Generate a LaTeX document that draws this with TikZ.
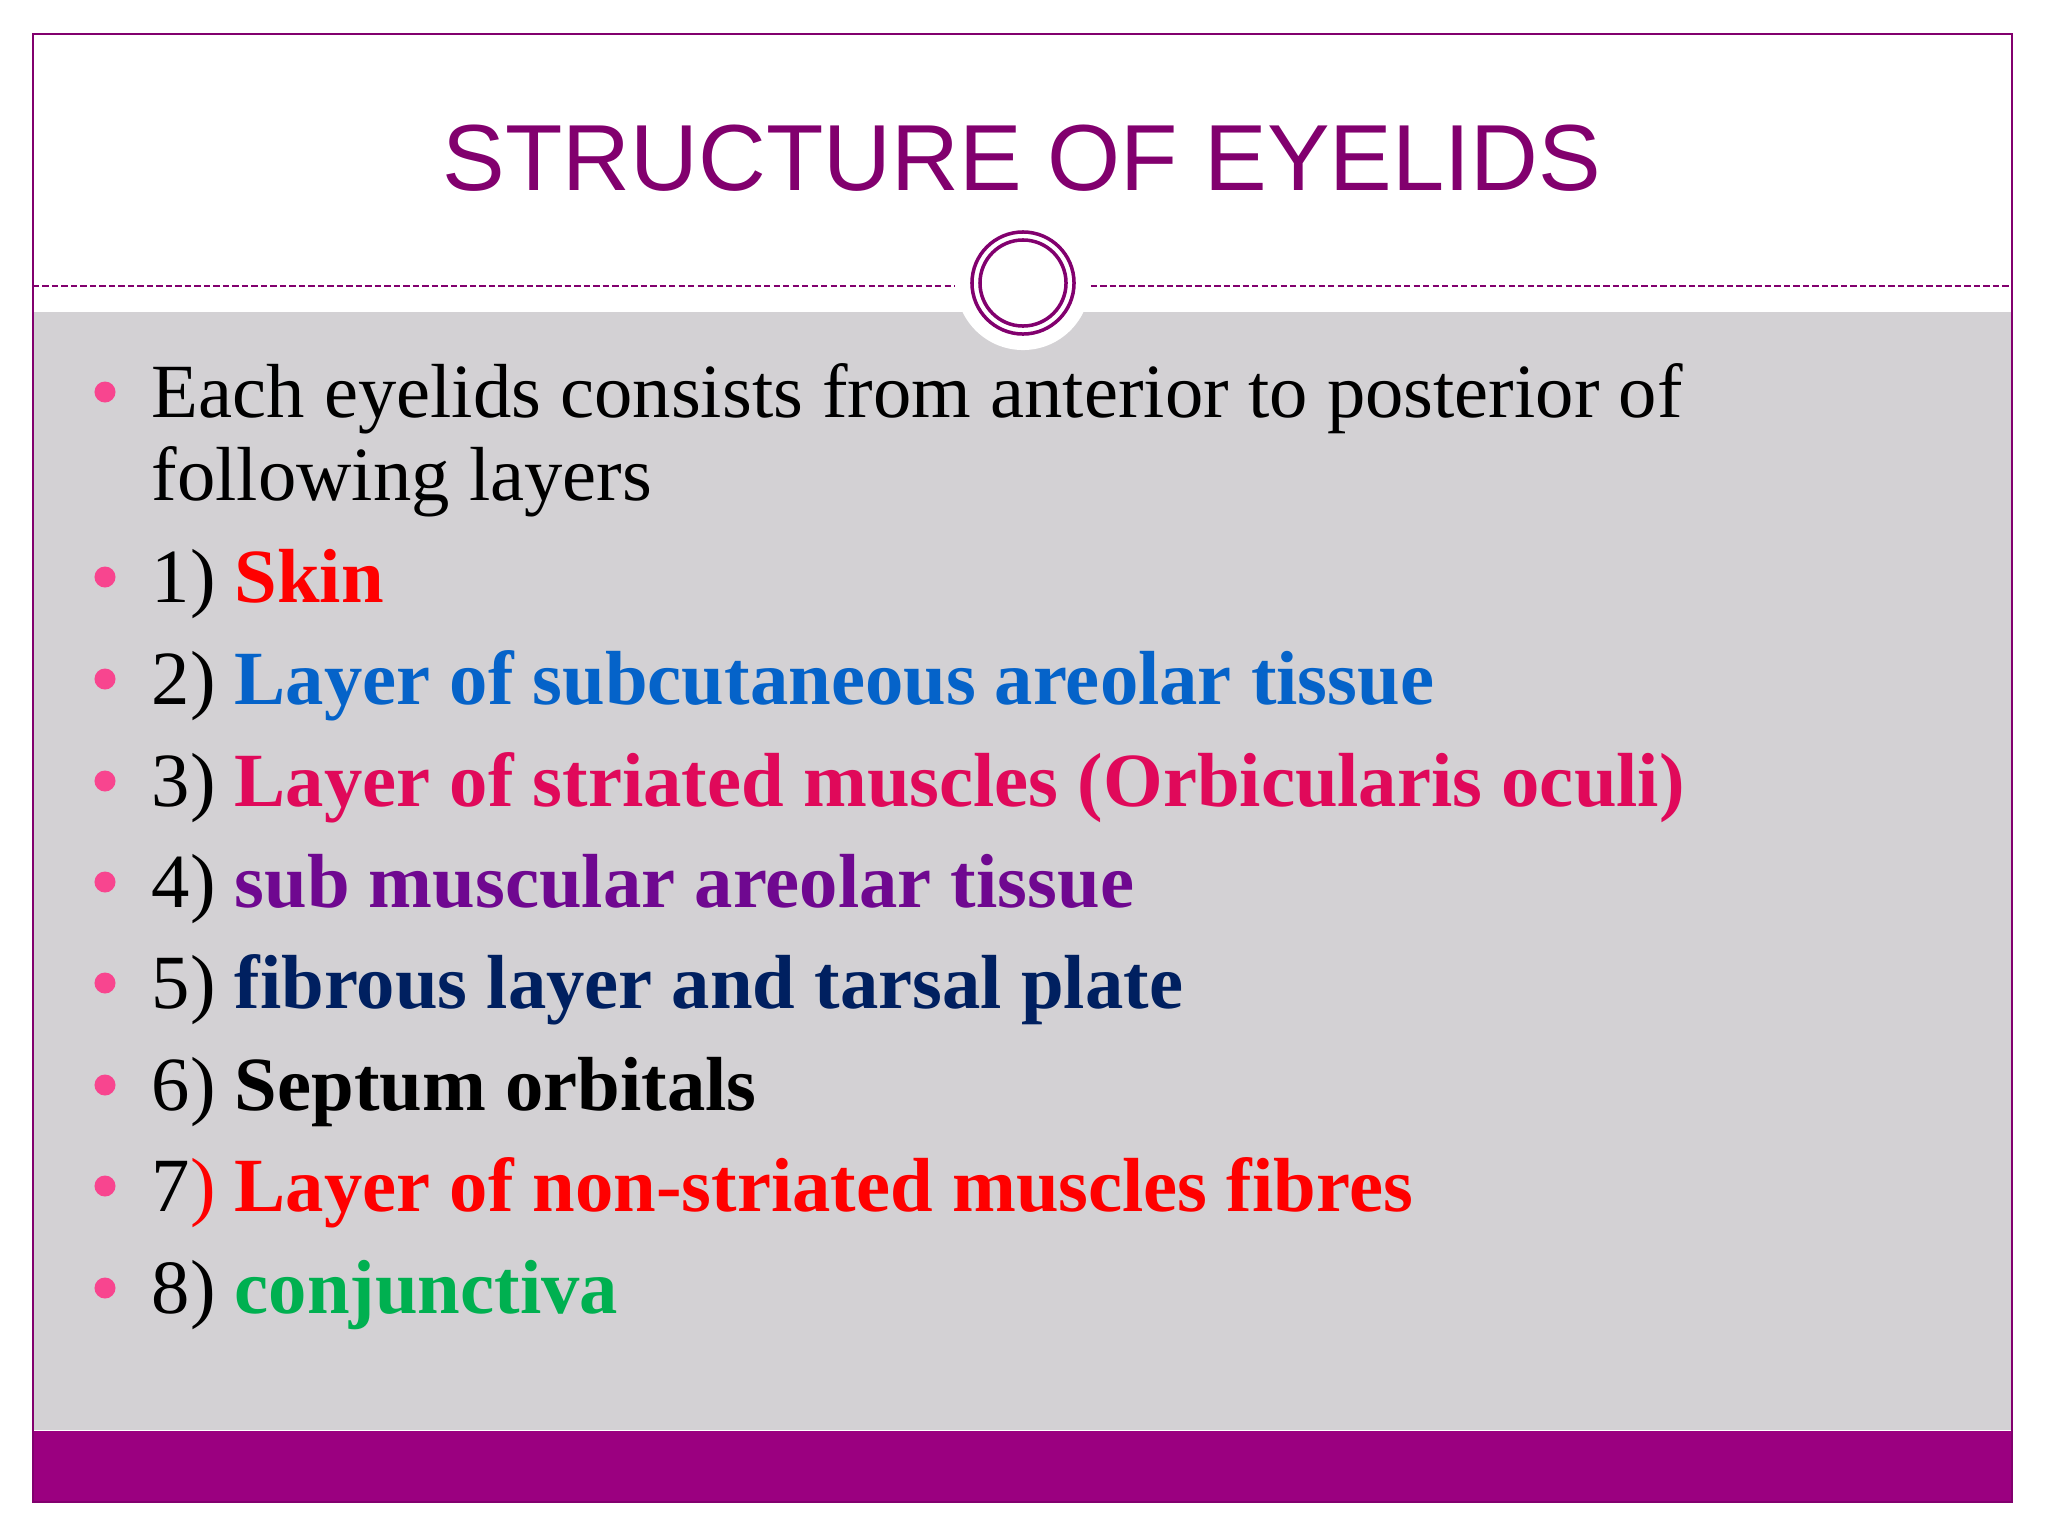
\documentclass[tikz,border=0pt]{standalone}
\usepackage{fontspec}
\setmainfont{Liberation Serif}
\newfontfamily\titlefont{Liberation Sans}
\definecolor{slideplum}{HTML}{9B0080}
\definecolor{titleplum}{HTML}{82006E}
\definecolor{panelgray}{HTML}{D3D1D4}
\definecolor{dotpink}{HTML}{F8458F}
\definecolor{skinred}{HTML}{FF0000}
\definecolor{areolarblue}{HTML}{0563C9}
\definecolor{muscrose}{HTML}{E0095A}
\definecolor{submauve}{HTML}{6F0890}
\definecolor{fibnavy}{HTML}{002060}
\definecolor{conjgreen}{HTML}{00B050}
\tikzset{
  txt/.style={anchor=base west, inner sep=0pt, font=\fontsize{21.8}{26}\selectfont},
  dot/.style={circle, fill=dotpink, inner sep=0pt, minimum size=0.21cm},
  ring/.style={circle, draw=titleplum, line width=1pt, inner sep=0pt}
}
\begin{document}
\begin{tikzpicture}[x=0.01cm, y=-0.01cm]
				  \useasboundingbox (0,0) rectangle (2048,1536);
				  \fill[white] (0,0) rectangle (2048,1536);
				  \fill[panelgray] (33,312) rectangle (2012,1430);
				  \fill[slideplum] (33,1431) rectangle (2012,1502);
				  \draw[titleplum, line width=0.6pt] (33,34) rectangle (2012,1502);
				  \node[circle, fill=white, inner sep=0pt, minimum size=1.34cm] (halo) at (1023,283) {};
				  \node[ring, minimum size=1.02cm] (outer) at (halo) {};
				  \node[ring, minimum size=0.86cm] (inner) at (halo) {};
				  \coordinate (ruleL) at (33,286);
				  \coordinate (ruleR) at (2012,286);
				  \draw[titleplum, line width=0.6pt, dash pattern=on 1.8pt off 0.9pt] (ruleL) -- (ruleL -| halo.west);
				  \draw[titleplum, line width=0.6pt, dash pattern=on 1.8pt off 0.9pt] (ruleR -| halo.east) -- (ruleR);
				  \node[anchor=base, inner sep=0pt, text=titleplum, font=\titlefont\fontsize{26.7}{32}\selectfont] (title) at (1022,190) {STRUCTURE OF EYELIDS};
				  \node[dot] (d0) at (105,392) {};
				  \node[txt] (intro) at (151,417) {Each eyelids consists from anterior to posterior of};
				  \node[txt] (intro2) at (151,500) {following layers};
				  \node[dot] (d1) at (105,577) {};
				  \node[txt] (l1) at (151,602) {1) \textcolor{skinred}{\textbf{Skin}}};
				  \node[dot] (d2) at (105,679) {};
				  \node[txt] (l2) at (151,704) {2) \textcolor{areolarblue}{\textbf{Layer of subcutaneous areolar tissue}}};
				  \node[dot] (d3) at (105,781) {};
				  \node[txt] (l3) at (151,806) {3) \textcolor{muscrose}{\textbf{Layer of striated muscles (Orbicularis oculi)}}};
				  \node[dot] (d4) at (105,882) {};
				  \node[txt] (l4) at (151,907) {4) \textcolor{submauve}{\textbf{sub muscular areolar tissue}}};
				  \node[dot] (d5) at (105,983) {};
				  \node[txt] (l5) at (151,1008) {5) \textcolor{fibnavy}{\textbf{fibrous layer and tarsal plate}}};
				  \node[dot] (d6) at (105,1085) {};
				  \node[txt] (l6) at (151,1110) {6) \textbf{Septum orbitals}};
				  \node[dot] (d7) at (105,1186) {};
				  \node[txt] (l7) at (151,1211) {7\textcolor{skinred}{) \textbf{Layer of non-striated muscles fibres}}};
				  \node[dot] (d8) at (105,1288) {};
				  \node[txt] (l8) at (151,1313) {8) \textcolor{conjgreen}{\textbf{conjunctiva}}};
\end{tikzpicture}
\end{document}
